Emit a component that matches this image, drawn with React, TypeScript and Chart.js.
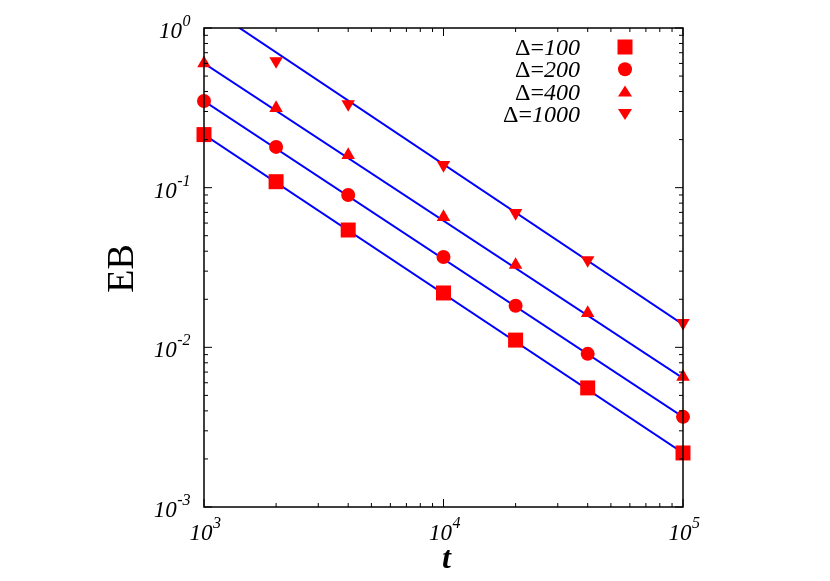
import React, { useEffect, useRef } from 'react';
import { Chart, registerables } from 'chart.js';
Chart.register(...registerables);

// ---- data ----
const tValues = [1000, 2000, 4000, 10000, 20000, 40000, 100000];
const eb100 = [0.215, 0.109, 0.0543, 0.0219, 0.0111, 0.00557, 0.00218];
const eb200 = [0.349, 0.18, 0.09, 0.0368, 0.0182, 0.0091, 0.00367];
const eb400 = [0.6, 0.315, 0.16, 0.0655, 0.0328, 0.0164, 0.00653];
const t1000 = [2000, 4000, 10000, 20000, 40000, 100000];
const eb1000 = [0.621, 0.334, 0.139, 0.0695, 0.0352, 0.0142];

const fitT = [1000, 100000];
const fit100 = [0.215, 0.00218];
const fit200 = [0.349, 0.00367];
const fit400 = [0.6, 0.0064];
const fit1000 = [1.41, 0.0139];

const legendLabels = ['100', '200', '400', '1000'];
const xTickExps = [3, 4, 5];
const yTickExps = [0, -1, -2, -3];

const RED = '#ff0000';
const BLUE = '#0000ff';
const FONT = '"Liberation Serif", "DejaVu Serif", serif';

function pts(xs: number[], ys: number[]) {
  return xs.map((x, i) => ({ x, y: ys[i] }));
}

function drawPow(ctx: CanvasRenderingContext2D, exp: string, x: number, baseline: number, align: 'center' | 'right') {
  ctx.font = `italic 23px ${FONT}`;
  const w1 = ctx.measureText('10').width;
  ctx.font = `italic 16px ${FONT}`;
  const w2 = ctx.measureText(exp).width;
  const total = w1 + w2;
  const start = align === 'center' ? x - total / 2 : x - total;
  ctx.textAlign = 'left';
  ctx.textBaseline = 'alphabetic';
  ctx.font = `italic 23px ${FONT}`;
  ctx.fillText('10', start, baseline);
  ctx.font = `italic 16px ${FONT}`;
  ctx.fillText(exp, start + w1 + 0.5, baseline - 12);
}

function drawMarker(ctx: CanvasRenderingContext2D, kind: number, x: number, y: number) {
  ctx.fillStyle = RED;
  ctx.beginPath();
  if (kind === 0) {
    ctx.rect(x - 7.5, y - 7.5, 15, 15);
  } else if (kind === 1) {
    ctx.arc(x, y, 7, 0, Math.PI * 2);
  } else if (kind === 2) {
    ctx.moveTo(x, y - 6);
    ctx.lineTo(x + 7, y + 5);
    ctx.lineTo(x - 7, y + 5);
    ctx.closePath();
  } else {
    ctx.moveTo(x, y + 6);
    ctx.lineTo(x + 7, y - 5);
    ctx.lineTo(x - 7, y - 5);
    ctx.closePath();
  }
  ctx.fill();
}

const framePlugin = {
  id: 'framePlugin',
  afterDraw(chart: any) {
    const { ctx, chartArea: a, scales } = chart;
    const xs = scales.x;
    const ys = scales.y;
    ctx.save();
    // frame
    ctx.strokeStyle = '#000';
    ctx.lineWidth = 1.5;
    ctx.strokeRect(a.left, a.top, a.right - a.left, a.bottom - a.top);
    ctx.lineWidth = 1;
    ctx.beginPath();
    // x ticks
    for (let i = 0; i < xTickExps.length; i++) {
      const base = Math.pow(10, xTickExps[i]);
      const px = xs.getPixelForValue(base);
      ctx.moveTo(px, a.bottom); ctx.lineTo(px, a.bottom - 8);
      ctx.moveTo(px, a.top); ctx.lineTo(px, a.top + 8);
      if (i < xTickExps.length - 1) {
        for (let m = 2; m <= 9; m++) {
          const p = xs.getPixelForValue(base * m);
          ctx.moveTo(p, a.bottom); ctx.lineTo(p, a.bottom - 4);
          ctx.moveTo(p, a.top); ctx.lineTo(p, a.top + 4);
        }
      }
    }
    // y ticks
    for (let i = 0; i < yTickExps.length; i++) {
      const base = Math.pow(10, yTickExps[i]);
      const py = ys.getPixelForValue(base);
      ctx.moveTo(a.left, py); ctx.lineTo(a.left + 8, py);
      ctx.moveTo(a.right, py); ctx.lineTo(a.right - 8, py);
      if (i > 0) {
        for (let m = 2; m <= 9; m++) {
          const p = ys.getPixelForValue(base * m);
          ctx.moveTo(a.left, p); ctx.lineTo(a.left + 4, p);
          ctx.moveTo(a.right, p); ctx.lineTo(a.right - 4, p);
        }
      }
    }
    ctx.stroke();

    // tick labels
    ctx.fillStyle = '#000';
    for (const e of xTickExps) {
      const px = xs.getPixelForValue(Math.pow(10, e));
      drawPow(ctx, String(e), px + 1, a.bottom + 33, 'center');
    }
    for (const e of yTickExps) {
      const py = ys.getPixelForValue(Math.pow(10, e));
      drawPow(ctx, String(e), a.left - 14, py + 10, 'right');
    }

    // axis titles
    ctx.save();
    ctx.translate(123, (a.top + a.bottom) / 2 + 1);
    ctx.rotate(-Math.PI / 2);
    ctx.font = `38px ${FONT}`;
    ctx.textAlign = 'center';
    ctx.textBaseline = 'middle';
    ctx.fillText('EB', 0, 0);
    ctx.restore();

    ctx.font = `italic bold 32px ${FONT}`;
    ctx.textAlign = 'center';
    ctx.textBaseline = 'alphabetic';
    ctx.fillText('t', (a.left + a.right) / 2 + 3, 568);

    // legend
    for (let i = 0; i < legendLabels.length; i++) {
      const cy = 47 + i * 22.3;
      const right = 580;
      ctx.font = `italic 24px ${FONT}`;
      const wNum = ctx.measureText(legendLabels[i]).width;
      ctx.font = `24px ${FONT}`;
      const wPre = ctx.measureText('Δ=').width;
      ctx.fillStyle = '#000';
      ctx.textAlign = 'left';
      ctx.fillText('Δ=', right - wNum - wPre, cy + 8);
      ctx.font = `italic 24px ${FONT}`;
      ctx.fillText(legendLabels[i], right - wNum, cy + 8);
      drawMarker(ctx, i, 625, cy);
    }
    ctx.restore();
  },
};

export default function App() {
  const ref = useRef<HTMLCanvasElement | null>(null);
  useEffect(() => {
    if (!ref.current) return;
    const lineDs = (ys: number[]) => ({
      type: 'line' as const,
      data: pts(fitT, ys),
      borderColor: BLUE,
      borderWidth: 2,
      pointRadius: 0,
      fill: false,
      order: 2,
    });
    const ptDs = (xs: number[], ys: number[], style: string, r: number, rot = 0) => ({
      type: 'scatter' as const,
      data: pts(xs, ys),
      backgroundColor: RED,
      borderColor: RED,
      borderWidth: 0,
      pointStyle: style,
      pointRadius: r,
      pointRotation: rot,
      clip: false,
      order: 1,
    });
    const chart = new Chart(ref.current, {
      type: 'scatter',
      data: {
        datasets: [
          lineDs(fit100),
          lineDs(fit200),
          lineDs(fit400),
          lineDs(fit1000),
          ptDs(tValues, eb100, 'rect', 10.6),
          ptDs(tValues, eb200, 'circle', 7),
          ptDs(tValues, eb400, 'triangle', 7.8),
          ptDs(t1000, eb1000, 'triangle', 7.8, 180),
        ] as any,
      },
      options: {
        animation: false,
        responsive: false,
        layout: { padding: { left: 204, right: 147, top: 28, bottom: 74 } },
        plugins: { legend: { display: false }, tooltip: { enabled: false } },
        scales: {
          x: { type: 'logarithmic', min: 1000, max: 100000, display: false },
          y: { type: 'logarithmic', min: 0.001, max: 1, display: false },
        },
      },
      plugins: [framePlugin],
    });
    return () => chart.destroy();
  }, []);
  return (
    <div style={{ position: 'fixed', left: 0, top: 0, width: 830, height: 581, background: '#fff' }}>
      <canvas ref={ref} width={830} height={581} style={{ width: 830, height: 581 }} />
    </div>
  );
}
